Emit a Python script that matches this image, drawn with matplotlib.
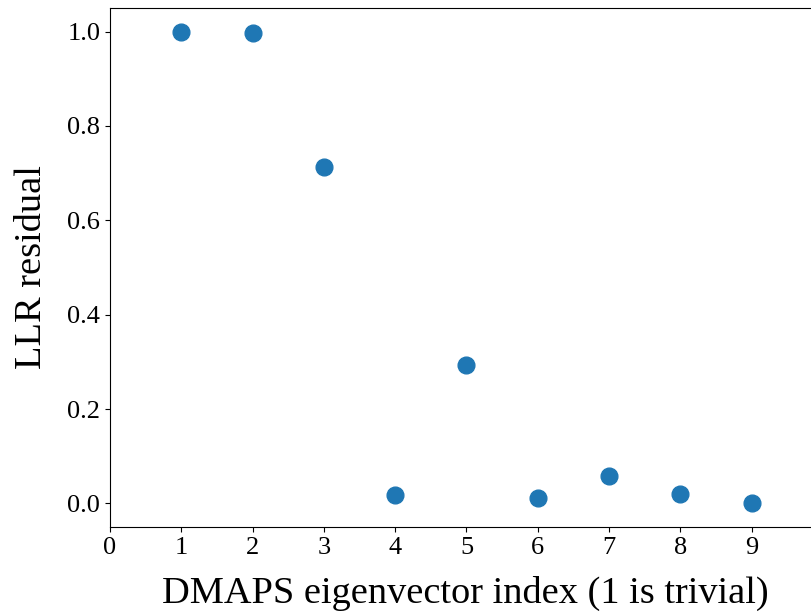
import numpy as np
import matplotlib
matplotlib.use("Agg")
import matplotlib.pyplot as plt

plt.rcParams['font.family'] = ['Liberation Serif', 'DejaVu Serif']

# eigenvector index and LLR residual
idx = [1, 2, 3, 4, 5, 6, 7, 8, 9]
resid = [1.0, 0.996, 0.714, 0.018, 0.294, 0.012, 0.059, 0.021, 0.0]

fig = plt.figure(figsize=(8.12, 6.14), dpi=100)
# axes run past the right edge, as in the cropped original
ax = fig.add_axes([110/812, 87/614, 730/812, 519/614])
ax.scatter(idx, resid, s=145, color='#1f77b4', zorder=3)

ax.set_xlim(0, 730/71.3)
ax.set_ylim(-0.05, 1.05)
ax.set_xticks(range(0, 10))
ax.set_yticks([0.0, 0.2, 0.4, 0.6, 0.8, 1.0])
ax.tick_params(labelsize=19)
ax.set_xlabel("DMAPS eigenvector index (1 is trivial)", fontsize=27.6, labelpad=12)
ax.xaxis.label.set_x((465 - 110) / 730)
ax.set_ylabel("LLR residual", fontsize=27.6, labelpad=13)

fig.savefig("out.png", dpi=100)
